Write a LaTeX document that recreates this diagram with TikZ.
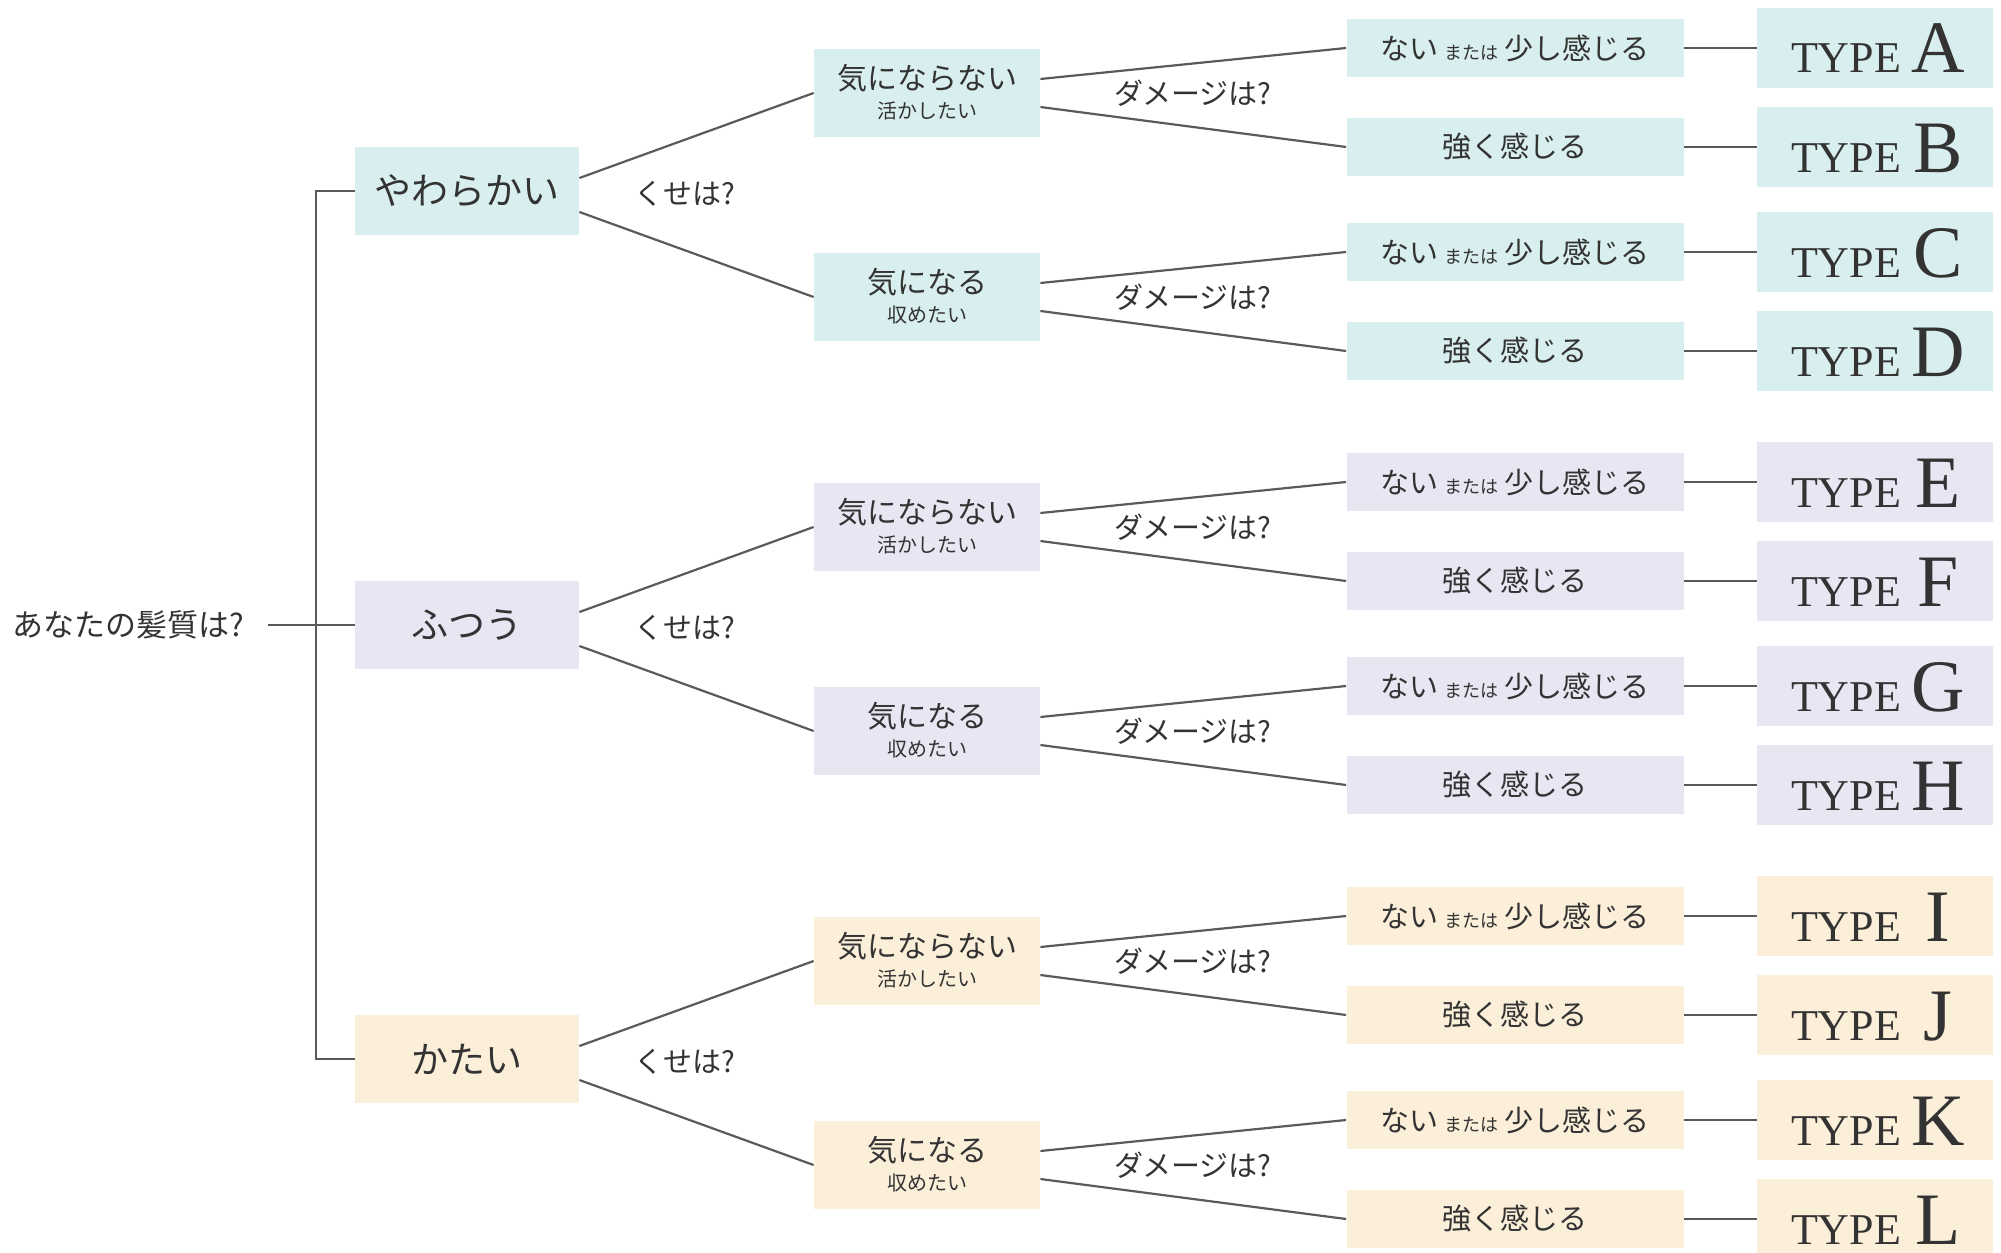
\documentclass[tikz,border=0pt]{standalone}
\usepackage{fontspec}
\setmainfont{Liberation Serif}
\newfontfamily\cjk{Noto Sans CJK JP}
\usetikzlibrary{positioning}

% 塗りと線の色
\definecolor{softfill}{HTML}{D9EEEE}
\definecolor{normalfill}{HTML}{E7E6F2}
\definecolor{hardfill}{HTML}{FCEFD9}
\definecolor{inkgray}{HTML}{333333}
\definecolor{linkgray}{HTML}{5A5A5A}

% 葉の文字
\newcommand{\fewtext}{ない\hspace{3pt}{\fontsize{9}{9}\selectfont または}\hspace{3pt}少し感じる}
\newcommand{\typelabel}[1]{\makebox[63pt][l]{\fontsize{22}{22}\selectfont TYPE}\makebox[21pt][c]{\fontsize{37}{37}\selectfont #1}}

\tikzset{
  link/.style={draw=linkgray, line width=1.1pt},
  cell/.style={fill=#1, inner sep=0pt, text=inkgray},
  start/.style={inner ysep=0pt, inner xsep=11.5pt, text=inkgray, font=\cjk\fontsize{15.5}{17}\selectfont},
  lvone/.style={minimum width=112pt, minimum height=44pt, font=\cjk\fontsize{18.5}{20}\selectfont},
  lvtwo/.style={minimum width=113pt, minimum height=44pt, align=center, text depth=2pt, font=\cjk\fontsize{15}{14.5}\selectfont},
  lvthree/.style={minimum width=168.5pt, minimum height=29pt, font=\cjk\fontsize{14.5}{16}\selectfont},
  typebox/.style={minimum width=118pt, minimum height=40pt, text height=25pt, text depth=0pt},
  asklabel/.style={text=inkgray, inner sep=0pt, font=\cjk\fontsize{14.5}{16}\selectfont}
}

\begin{document}
\begin{tikzpicture}[x=0.5pt, y=-0.5pt]
  % 画像の範囲
  \useasboundingbox (0,0) rectangle (2001,1252);

  % 出発点と髪質の3分類
  \node[start, anchor=east] (hair) at (268,625) {あなたの髪質は?};
  \node[cell=softfill, lvone] (soft) at (467,191) {やわらかい};
  \node[cell=normalfill, lvone] (normal) at (467,625) {ふつう};
  \node[cell=hardfill, lvone] (hard) at (467,1059) {かたい};

  \draw[link] (soft.west) -- ++(-39,0) |- (hard.west);
  \draw[link] (hair.east) -- (normal.west);

  % くせ → ダメージ → タイプ
  \foreach \grp/\col/\yc/\la/\lb/\lc/\ld in {soft/softfill/191/A/B/C/D, normal/normalfill/625/E/F/G/H, hard/hardfill/1059/I/J/K/L}{
    \node[asklabel] (\grp-ask) at (685,\yc+3) {くせは?};
    \foreach \opt/\dy/\ks/\mainline/\subline/\lta/\ltb in {no/-98/6.5pt/気にならない/活かしたい/\la/\lb, yes/106/-10.5pt/気になる/収めたい/\lc/\ld}{
      \pgfmathsetmacro{\ytwo}{\yc+\dy}
      \pgfmathsetmacro{\yupper}{\ytwo-45}
      \pgfmathsetmacro{\ylower}{\ytwo+54}
      \node[cell=\col, lvtwo] (\grp-\opt) at (927,\ytwo) {\mainline\\{\fontsize{10}{12}\selectfont\subline}};
      \node[asklabel] (\grp-\opt-dmg) at (1193,\ytwo) {ダメージは?};
      \node[cell=\col, lvthree] (\grp-\opt-a) at (1515,\yupper) {\fewtext};
      \node[cell=\col, lvthree] (\grp-\opt-b) at (1515,\ylower) {強く感じる};
      \node[cell=\col, typebox] (\grp-\opt-a-type) at (1875,\yupper) {\typelabel{\lta}};
      \node[cell=\col, typebox] (\grp-\opt-b-type) at (1875,\ylower) {\typelabel{\ltb}};

      \draw[link] ([yshift=\ks]\grp.east) -- (\grp-\opt.west);
      \draw[link] ([yshift=7pt]\grp-\opt.east) -- (\grp-\opt-a.west);
      \draw[link] ([yshift=-7pt]\grp-\opt.east) -- (\grp-\opt-b.west);
      \draw[link] (\grp-\opt-a) -- (\grp-\opt-a-type);
      \draw[link] (\grp-\opt-b) -- (\grp-\opt-b-type);
    }
  }
\end{tikzpicture}
\end{document}
